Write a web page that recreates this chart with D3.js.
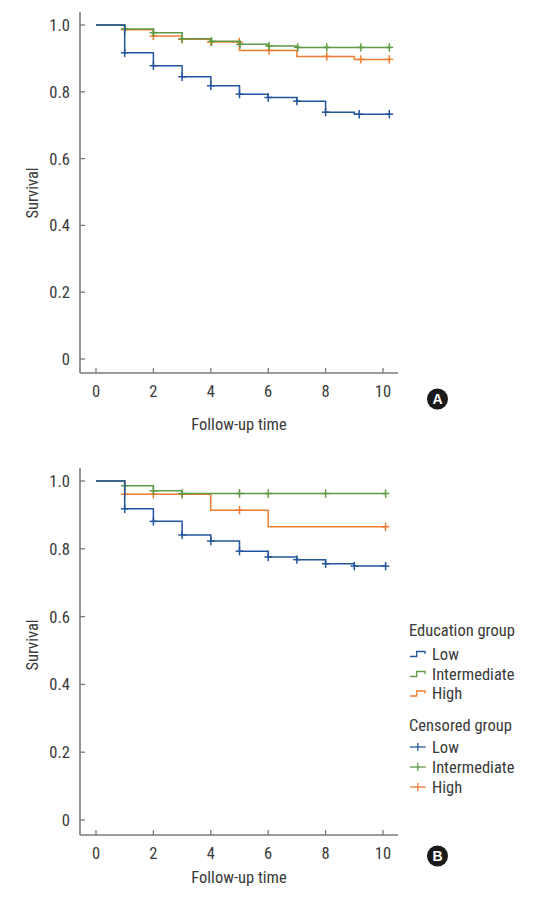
<!DOCTYPE html>
<html><head><meta charset="utf-8">
<script src="https://cdn.jsdelivr.net/npm/d3@7"></script>
<style>
html,body{margin:0;padding:0;background:#fff;}
svg text{font-family:"Liberation Sans Narrow","Roboto Condensed","Arial Narrow","DejaVu Sans Condensed",sans-serif;fill:#3a3a3a;}
</style></head><body>
<svg id="c" width="543" height="901"></svg>
<script>
// ---------- data ----------
const groups = ["Low", "Intermediate", "High"];
const xTicks = [0, 2, 4, 6, 8, 10];
const yTicks = [0, 0.2, 0.4, 0.6, 0.8, 1.0];

// Panel A (step times and survival after each step)
const timesA = [0, 1, 2, 3, 4, 5, 6, 7, 8, 9, 10.22];
const lowA   = [1.0, 0.917, 0.878, 0.845, 0.818, 0.793, 0.783, 0.772, 0.739, 0.733, 0.733];
const intA   = [1.0, 0.988, 0.977, 0.959, 0.951, 0.942, 0.937, 0.933, 0.933, 0.933, 0.933];
const highA  = [1.0, 0.986, 0.967, 0.957, 0.949, 0.924, 0.924, 0.906, 0.906, 0.897, 0.897];
const censLowA  = [1, 2, 3, 4, 5, 6, 7, 8, 9.17, 10.22];
const censIntA  = [1, 2, 3, 4.03, 5.02, 6.03, 7.03, 8.04, 9.23, 10.22];
const censHighA = [1, 2, 3, 4, 4.99, 6.03, 8.04, 9.23, 10.22];

// Panel B
const timesB = [0, 1, 2, 3, 4, 5, 6, 7, 8, 9, 10.09];
const lowB   = [1.0, 0.918, 0.881, 0.841, 0.823, 0.793, 0.776, 0.768, 0.756, 0.749, 0.749];
const intB   = [1.0, 0.986, 0.971, 0.963, 0.963, 0.963, 0.963, 0.963, 0.963, 0.963, 0.963];
const highB  = [1.0, 0.961, 0.961, 0.961, 0.914, 0.914, 0.865, 0.865, 0.865, 0.865, 0.865];
const censLowB  = [1, 2, 3, 4, 5, 6, 7, 8, 9, 10.09];
const censIntB  = [1, 2, 3, 5, 6, 8, 10.09];
const censHighB = [1, 2, 3, 5, 10.09];

const colors = {Low: "#23559c", Intermediate: "#5f9a45", High: "#ee7d33"};

// ---------- drawing ----------
const svg = d3.select("#c");
const FS = 16.5;

const panels = [
  {label: "A", times: timesA, series: {Low: lowA, Intermediate: intA, High: highA},
   cens: {Low: censLowA, Intermediate: censIntA, High: censHighA},
   y0: 359, y1: 25, axisY: 373, axisTop: 12, xLabelY: 430, yLabelY: 193, badgeY: 399},
  {label: "B", times: timesB, series: {Low: lowB, Intermediate: intB, High: highB},
   cens: {Low: censLowB, Intermediate: censIntB, High: censHighB},
   y0: 820, y1: 481, axisY: 835, axisTop: 468, xLabelY: 883, yLabelY: 645, badgeY: 856}
];

const x = d3.scaleLinear().domain([0, 10]).range([96, 383]);
const axisX = 80, axisRight = 398;

panels.forEach(p => {
  const y = d3.scaleLinear().domain([0, 1]).range([p.y0, p.y1]);
  const g = svg.append("g");

  // axes lines
  g.append("line").attr("x1", axisX).attr("x2", axisX).attr("y1", p.axisTop).attr("y2", p.axisY)
    .attr("stroke", "#7a7a7a").attr("stroke-width", 1.6);
  g.append("line").attr("x1", axisX).attr("x2", axisRight).attr("y1", p.axisY).attr("y2", p.axisY)
    .attr("stroke", "#7a7a7a").attr("stroke-width", 1.6);

  // y ticks
  yTicks.forEach(v => {
    g.append("line").attr("x1", axisX).attr("x2", axisX + 5).attr("y1", y(v)).attr("y2", y(v))
      .attr("stroke", "#7a7a7a").attr("stroke-width", 1.3);
    g.append("text").attr("x", 70).attr("y", y(v)).attr("dy", "0.36em")
      .attr("text-anchor", "end").attr("font-size", FS)
      .text(v === 0 ? "0" : d3.format(".1f")(v));
  });
  // x ticks
  xTicks.forEach(v => {
    g.append("line").attr("x1", x(v)).attr("x2", x(v)).attr("y1", p.axisY).attr("y2", p.axisY - 5)
      .attr("stroke", "#7a7a7a").attr("stroke-width", 1.3);
    g.append("text").attr("x", x(v)).attr("y", p.axisY + 24)
      .attr("text-anchor", "middle").attr("font-size", FS).text(v);
  });

  // axis titles
  g.append("text").attr("x", 239).attr("y", p.xLabelY).attr("text-anchor", "middle")
    .attr("font-size", FS).text("Follow-up time");
  g.append("text").attr("transform", `translate(38,${p.yLabelY}) rotate(-90)`)
    .attr("text-anchor", "middle").attr("font-size", FS).text("Survival");

  // curves (draw order: High, Intermediate, Low)
  const line = d3.line().x(d => x(d[0])).y(d => y(d[1])).curve(d3.curveStepAfter);
  ["High", "Intermediate", "Low"].forEach(k => {
    const vals = p.series[k];
    const pts = p.times.map((t, i) => [t, vals[i]]);
    g.append("path").attr("d", line(pts)).attr("fill", "none")
      .attr("stroke", colors[k]).attr("stroke-width", 1.5);
    // censor marks
    p.cens[k].forEach(t => {
      const i = Math.max(0, d3.bisectRight(p.times, t) - 1);
      const v = vals[i];
      const cx = x(t), cy = y(v);
      g.append("line").attr("x1", cx - 3.8).attr("x2", cx + 3.8).attr("y1", cy).attr("y2", cy)
        .attr("stroke", colors[k]).attr("stroke-width", 1.5);
      g.append("line").attr("x1", cx).attr("x2", cx).attr("y1", cy - 4.2).attr("y2", cy + 4.2)
        .attr("stroke", colors[k]).attr("stroke-width", 1.5);
    });
  });

  // badge
  g.append("circle").attr("cx", 437.5).attr("cy", p.badgeY).attr("r", 10.5).attr("fill", "#1a1a1a");
  g.append("text").attr("x", 437.5).attr("y", p.badgeY).attr("dy", "0.36em").attr("text-anchor", "middle")
    .attr("font-size", 14).attr("font-weight", "bold").style("fill", "#fff")
    .style("font-family", "'Liberation Sans','Arial',sans-serif").text(p.label);
});

// ---------- legend ----------
const lg = svg.append("g");
const lgX = 409, itemX = 432;
lg.append("text").attr("x", lgX).attr("y", 630).attr("dy", "0.36em").attr("font-size", FS).text("Education group");
const stepYs = [654, 674, 693.5];
groups.forEach((k, i) => {
  const cy = stepYs[i];
  lg.append("path").attr("d", `M410,${cy + 2.5}H416.7V${cy - 2.5}H425V${cy}`)
    .attr("fill", "none").attr("stroke", colors[k]).attr("stroke-width", 1.3);
  lg.append("text").attr("x", itemX).attr("y", cy).attr("dy", "0.36em").attr("font-size", FS).text(k);
});
lg.append("text").attr("x", lgX).attr("y", 725).attr("dy", "0.36em").attr("font-size", FS).text("Censored group");
const censYs = [747, 767, 787];
groups.forEach((k, i) => {
  const cy = censYs[i];
  lg.append("line").attr("x1", 410).attr("x2", 425.7).attr("y1", cy).attr("y2", cy)
    .attr("stroke", colors[k]).attr("stroke-width", 1.3);
  lg.append("line").attr("x1", 417.8).attr("x2", 417.8).attr("y1", cy - 4).attr("y2", cy + 4)
    .attr("stroke", colors[k]).attr("stroke-width", 1.3);
  lg.append("text").attr("x", itemX).attr("y", cy).attr("dy", "0.36em").attr("font-size", FS).text(k);
});
</script>
</body></html>
